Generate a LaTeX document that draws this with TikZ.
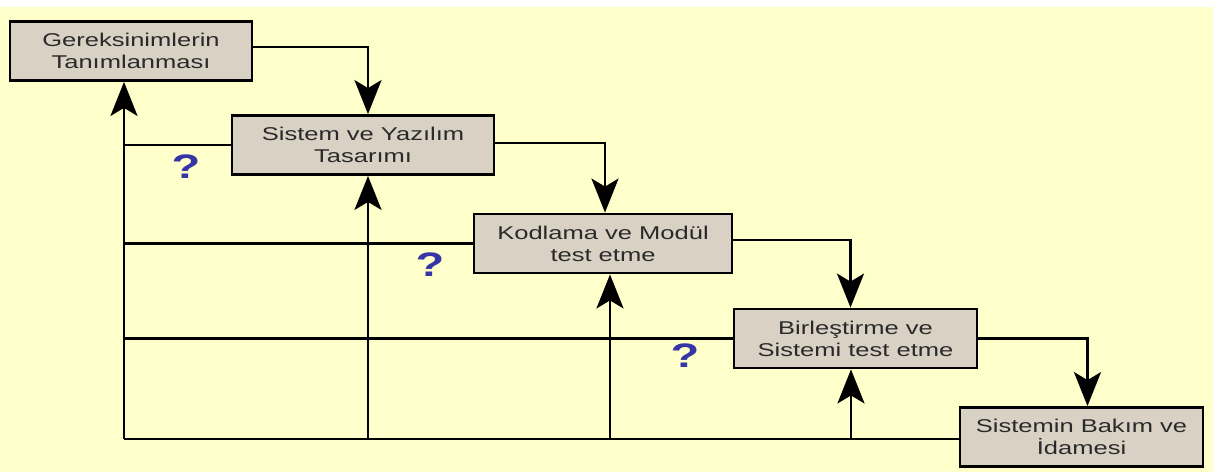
\documentclass[tikz,border=0pt]{standalone}
\usepackage{fontspec}
\setmainfont{Liberation Sans}[FakeStretch=1.38]
\usetikzlibrary{arrows.meta,positioning}
\definecolor{bgyellow}{HTML}{FFFFCC}
\definecolor{boxfill}{HTML}{D9D1C3}
\definecolor{qblue}{HTML}{3535A5}
\definecolor{txtgray}{HTML}{2A2A2A}

\begin{document}
\begin{tikzpicture}[x=1pt,y=-1pt,
      stage/.style={
        rectangle,
        draw=black, line width=2.8pt,
        fill=boxfill,
        minimum height=59pt,
        inner sep=0pt,
        align=center,
        text=txtgray,
        font=\fontsize{18.5}{22}\selectfont
      },
      flow/.style={
        -{Stealth[length=34pt,width=27pt,inset=8pt]},
        line width=2.8pt
      },
      link/.style={
        line width=2.8pt
      },
      query/.style={
        text=qblue,
        font=\fontsize{34}{34}\selectfont\bfseries
      }
    ]
      \useasboundingbox (0,0) rectangle (1218,472);
      \fill[bgyellow] (0,7) rectangle (1213,472);

      \node[stage, minimum width=242pt] (req) at (131,51) {Gereksinimlerin\\Tanımlanması};
      \node[stage, minimum width=262pt] (design) at (363,145) {Sistem ve Yazılım\\Tasarımı};
      \node[stage, minimum width=258pt] (coding) at (603,243.5) {Kodlama ve Modül\\test etme};
      \node[stage, minimum width=243pt] (integ) at (855.5,338.5) {Birleştirme ve\\Sistemi test etme};
      \node[stage, minimum width=243pt] (maint) at (1081.5,437) {Sistemin Bakım ve\\İdamesi};

      \node[query] (q1) at (186,167) {?};
      \node[query] (q2) at (430,265) {?};
      \node[query] (q3) at (685,356) {?};

      % forward steps
      \draw[flow] ([yshift=4pt]req.east) -| ([xshift=5pt]design.north);
      \draw[flow] ([yshift=2pt]design.east) -| ([xshift=2pt]coding.north);
      \draw[flow] ([yshift=3.5pt]coding.east) -| ([xshift=-5pt]integ.north);
      \draw[flow] (integ.east) -| ([xshift=6pt]maint.north);

      % feedback paths
      \coordinate (base) at (124,439);
      \draw[link] (maint.west |- base) -- (base);
      \draw[flow] (base) -- ([xshift=-7pt]req.south);
      \draw[flow] ([xshift=5pt]design.south |- base) -- ([xshift=5pt]design.south);
      \draw[flow] ([xshift=7pt]coding.south |- base) -- ([xshift=7pt]coding.south);
      \draw[flow] ([xshift=-4.5pt]integ.south |- base) -- ([xshift=-4.5pt]integ.south);
      \draw[link] (design.west) -- (design.west -| base);
      \draw[link] (coding.west) -- (coding.west -| base);
      \draw[link] (integ.west) -- (integ.west -| base);
    \end{tikzpicture}
\end{document}
